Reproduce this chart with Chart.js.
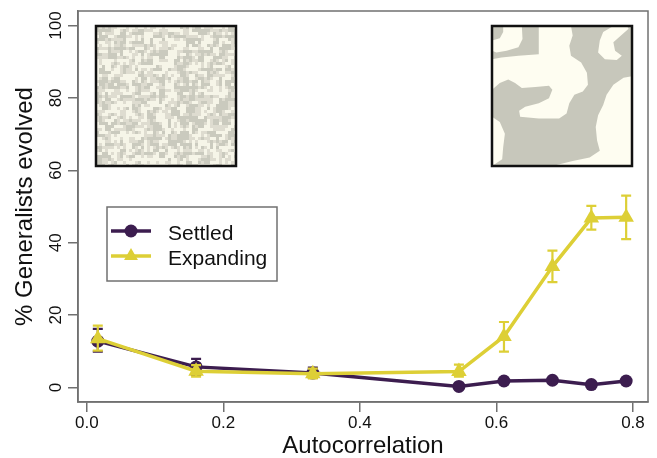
<!DOCTYPE html>
<html>
<head>
<meta charset="utf-8">
<script src="https://cdn.jsdelivr.net/npm/chart.js@4.4.1/dist/chart.umd.min.js"></script>
<style>
  html, body { margin: 0; padding: 0; background: #ffffff; }
  #c { display: block; }
</style>
</head>
<body>
<canvas id="c" width="657" height="458"></canvas>
<script>
// --- datos ---
const autocorr = [0.016, 0.160, 0.331, 0.545, 0.611, 0.682, 0.739, 0.790];

const settledMean = [12.8, 5.7, 4.0, 0.3, 1.8, 2.0, 0.8, 1.8];
const settledLow  = [9.9, 3.5, 2.7, 0.0, 1.2, 1.4, 0.3, 1.2];
const settledHigh = [16.2, 7.9, 5.5, 0.8, 2.4, 2.6, 1.3, 2.4];

const expandMean = [13.5, 4.5, 3.8, 4.4, 14.1, 33.4, 46.8, 47.0];
const expandLow  = [10.2, 3.0, 2.5, 3.0, 9.9, 29.1, 43.6, 41.0];
const expandHigh = [17.1, 6.2, 5.2, 6.3, 18.1, 37.8, 50.2, 53.0];

const seriesLabels = ['Settled', 'Expanding'];
const xTicks = [0, 0.2, 0.4, 0.6, 0.8];
const yTicks = [0, 20, 40, 60, 80, 100];

const PURPLE = '#3c1d4f';
const YELLOW = '#ddcf36';
const AXIS_GREY = '#707070';
const FONT = '"Liberation Sans", Arial, Helvetica, sans-serif';

const toPoints = (ys) => autocorr.map((x, i) => ({ x: x, y: ys[i] }));

// barras de error, dibujadas justo después de cada serie
const errorBars = {
  id: 'errorBars',
  afterDatasetDraw(chart, args) {
    const ds = chart.data.datasets[args.index];
    if (!ds.errLow) return;
    const { ctx, scales: { x, y } } = chart;
    ctx.save();
    ctx.strokeStyle = ds.borderColor;
    ctx.lineWidth = 2.2;
    const cap = 5;
    autocorr.forEach((v, i) => {
      const px = x.getPixelForValue(v);
      const lo = y.getPixelForValue(ds.errLow[i]);
      const hi = y.getPixelForValue(ds.errHigh[i]);
      ctx.beginPath();
      ctx.moveTo(px, lo); ctx.lineTo(px, hi);
      ctx.moveTo(px - cap, lo); ctx.lineTo(px + cap, lo);
      ctx.moveTo(px - cap, hi); ctx.lineTo(px + cap, hi);
      ctx.stroke();
    });
    ctx.restore();
  }
};

// hash simple para la textura del paisaje aleatorio
function hash(i, j) {
  let h = (i * 374761393 + j * 668265263) | 0;
  h = (h ^ (h >>> 13)) * 1274126177;
  h = h ^ (h >>> 16);
  return ((h >>> 0) % 1000) / 1000;
}

// manchas claras del paisaje autocorrelacionado (coords 12..425)
const blobs = [
  [[45,12],[100,12],[102,50],[90,75],[55,85],[25,90],[12,85],[12,55],[35,48],[45,30]],
  [[150,12],[245,12],[250,40],[240,70],[245,100],[275,120],[292,150],[295,185],[280,205],[255,215],[240,240],[232,270],[210,285],[150,285],[95,280],[92,262],[110,250],[150,240],[180,225],[190,200],[180,188],[140,192],[100,195],[80,180],[60,170],[35,180],[12,200],[12,110],[40,105],[90,100],[150,95]],
  [[330,55],[340,30],[365,15],[410,12],[415,20],[370,60],[375,85],[395,100],[380,112],[345,110],[325,90]],
  [[425,160],[400,165],[370,185],[350,215],[340,245],[325,275],[318,310],[322,350],[330,380],[300,400],[250,410],[190,425],[425,425]],
  [[12,280],[35,295],[50,330],[45,370],[42,405],[12,425]]
];

const decorations = {
  id: 'decorations',
  afterDraw(chart) {
    const { ctx, chartArea: a } = chart;
    ctx.save();
    // caja del gráfico
    ctx.strokeStyle = AXIS_GREY;
    ctx.lineWidth = 1.5;
    ctx.strokeRect(a.left, a.top, a.right - a.left, a.bottom - a.top);

    // recuadro izquierdo: paisaje sin autocorrelación (textura suavizada)
    const L = { x: a.left + 18, y: a.top + 15, w: 140, h: 140 };
    const cell = 3;
    for (let i = 0; i < L.w; i += cell) {
      for (let j = 0; j < L.h; j += cell) {
        const ci = i / cell, cj = j / cell;
        const h = (2 * hash(ci, cj) + hash(ci + 1, cj) + hash(ci, cj + 1)) / 4;
        ctx.fillStyle = h < 0.42 ? '#cacabe' : (h < 0.58 ? '#dedcd0' : '#f6f5e8');
        ctx.fillRect(L.x + i, L.y + j, cell, cell);
      }
    }
    ctx.strokeStyle = '#111';
    ctx.lineWidth = 2.5;
    ctx.strokeRect(L.x, L.y, L.w, L.h);

    // recuadro derecho: paisaje autocorrelacionado
    const R = { x: a.left + 414, y: a.top + 15, w: 140, h: 140 };
    ctx.fillStyle = '#c7c7bb';
    ctx.fillRect(R.x, R.y, R.w, R.h);
    ctx.fillStyle = '#fefdf1';
    blobs.forEach(poly => {
      ctx.beginPath();
      poly.forEach(([u, v], k) => {
        const px = R.x + (u - 12) / 413 * R.w;
        const py = R.y + (v - 12) / 413 * R.h;
        k ? ctx.lineTo(px, py) : ctx.moveTo(px, py);
      });
      ctx.closePath();
      ctx.fill();
    });
    ctx.strokeStyle = '#111';
    ctx.lineWidth = 2.5;
    ctx.strokeRect(R.x, R.y, R.w, R.h);

    // leyenda
    const lg = { x: a.left + 29, y: a.top + 196, w: 170, h: 74 };
    ctx.fillStyle = '#ffffff';
    ctx.fillRect(lg.x, lg.y, lg.w, lg.h);
    ctx.strokeStyle = AXIS_GREY;
    ctx.lineWidth = 1.5;
    ctx.strokeRect(lg.x, lg.y, lg.w, lg.h);
    ctx.font = '21px ' + FONT;
    ctx.textBaseline = 'middle';
    ctx.textAlign = 'left';
    const rows = [chart.data.datasets[1], chart.data.datasets[0]];
    rows.forEach((ds, k) => {
      const cy = lg.y + 24 + k * 25;
      ctx.strokeStyle = ds.borderColor;
      ctx.lineWidth = 3.5;
      ctx.beginPath();
      ctx.moveTo(lg.x + 4, cy); ctx.lineTo(lg.x + 44, cy);
      ctx.stroke();
      ctx.fillStyle = ds.borderColor;
      ctx.beginPath();
      if (ds.pointStyle === 'triangle') {
        const r = 8;
        ctx.moveTo(lg.x + 24, cy - r);
        ctx.lineTo(lg.x + 24 + r * 0.866, cy + r * 0.5);
        ctx.lineTo(lg.x + 24 - r * 0.866, cy + r * 0.5);
        ctx.closePath();
      } else {
        ctx.arc(lg.x + 24, cy, ds.pointRadius, 0, Math.PI * 2);
      }
      ctx.fill();
      ctx.fillStyle = '#111';
      ctx.fillText(ds.label, lg.x + 61, cy + 3);
    });
    ctx.restore();
  }
};

new Chart(document.getElementById('c'), {
  type: 'line',
  data: {
    datasets: [
      {
        label: seriesLabels[1],
        data: toPoints(expandMean),
        errLow: expandLow, errHigh: expandHigh,
        borderColor: YELLOW, backgroundColor: YELLOW,
        borderWidth: 3.5, pointStyle: 'triangle', pointRadius: 9,
        pointBorderWidth: 0, tension: 0, order: 0
      },
      {
        label: seriesLabels[0],
        data: toPoints(settledMean),
        errLow: settledLow, errHigh: settledHigh,
        borderColor: PURPLE, backgroundColor: PURPLE,
        borderWidth: 3.5, pointStyle: 'circle', pointRadius: 6.5,
        pointBorderWidth: 0, tension: 0, order: 1
      }
    ]
  },
  options: {
    responsive: false,
    animation: false,
    devicePixelRatio: 1,
    layout: { padding: { top: 11, right: 6, left: 0, bottom: 0 } },
    plugins: { legend: { display: false }, tooltip: { enabled: false } },
    scales: {
      x: {
        type: 'linear', min: -0.013, max: 0.822,
        afterBuildTicks: (s) => { s.ticks = xTicks.map(v => ({ value: v })); },
        afterFit: (s) => { s.height = 56; },
        grid: { drawOnChartArea: false, drawTicks: true, tickLength: 10, color: AXIS_GREY, lineWidth: 1.5 },
        border: { display: true, color: AXIS_GREY, width: 1.5 },
        ticks: { callback: (v) => v.toFixed(1), color: '#111', font: { family: FONT, size: 17 }, padding: 1, maxRotation: 0 },
        title: { display: true, text: 'Autocorrelation', color: '#111', font: { family: FONT, size: 24, lineHeight: 1 }, padding: 0 }
      },
      y: {
        type: 'linear', min: -4, max: 104,
        afterBuildTicks: (s) => { s.ticks = yTicks.map(v => ({ value: v })); },
        afterFit: (s) => { s.width = 78; },
        grid: { drawOnChartArea: false, drawTicks: true, tickLength: 10, color: AXIS_GREY, lineWidth: 1.5 },
        border: { display: true, color: AXIS_GREY, width: 1.5 },
        ticks: { color: '#111', font: { family: FONT, size: 17 }, padding: -2, minRotation: 90, maxRotation: 90, crossAlign: 'center' },
        title: { display: true, text: '% Generalists evolved', color: '#111', font: { family: FONT, size: 24, lineHeight: 1 }, padding: { top: 13, bottom: 0 } }
      }
    }
  },
  plugins: [errorBars, decorations]
});
</script>
</body>
</html>
